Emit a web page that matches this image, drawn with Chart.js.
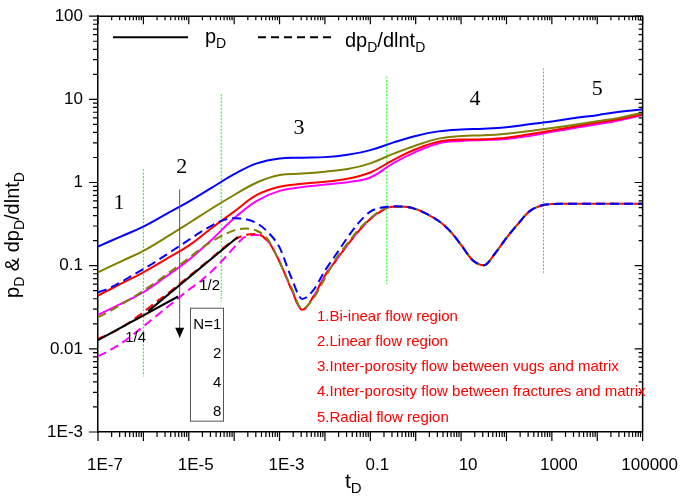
<!DOCTYPE html>
<html>
<head>
<meta charset="utf-8">
<script src="https://cdn.jsdelivr.net/npm/chart.js@4"></script>
<style>
  html, body { margin: 0; padding: 0; background: #fff; }
  #wrap { width: 685px; height: 500px; }
</style>
</head>
<body>
<div id="wrap"><canvas id="grafico"></canvas></div>
<script>
// tempo adimensional (meia década) para as curvas de pressão
const tPres = [1e-7, 3.16e-7, 1e-6, 3.16e-6, 1e-5, 3.16e-5, 1e-4, 3.16e-4, 1e-3, 3.16e-3, 0.01, 0.0316,
  0.1, 0.316, 1, 3.16, 10, 31.6, 100, 316, 1000, 3160, 1e4, 3.16e4, 1e5];

// pD para N = 1, 2, 4, 8
const pBlue = [0.170, 0.224, 0.295, 0.417, 0.589, 0.861, 1.26, 1.70, 1.95, 1.99, 2.02, 2.16, 2.45,
  3.02, 3.63, 4.12, 4.35, 4.44, 4.62, 5.01, 5.43, 5.96, 6.46, 7.08, 7.59];
const pOlive = [0.0832, 0.112, 0.151, 0.219, 0.324, 0.484, 0.708, 1.00, 1.23, 1.28, 1.35, 1.45, 1.70,
  2.21, 2.79, 3.37, 3.63, 3.69, 3.86, 4.17, 4.52, 4.96, 5.46, 6.03, 6.92];
const pRed = [0.0437, 0.0603, 0.0832, 0.120, 0.174, 0.282, 0.447, 0.708, 0.891, 0.966, 1.02, 1.11, 1.32,
  1.86, 2.51, 3.09, 3.28, 3.31, 3.45, 3.80, 4.22, 4.73, 5.25, 5.82, 6.61];
const pMagenta = [0.0257, 0.0347, 0.0479, 0.0741, 0.117, 0.204, 0.372, 0.603, 0.794, 0.881, 0.944, 1.01, 1.15,
  1.70, 2.34, 2.95, 3.16, 3.24, 3.33, 3.63, 4.07, 4.52, 5.01, 5.62, 6.46];

// tempo (quarto de década) para as derivadas
const tDeriv = [1e-7, 1.78e-7, 3.16e-7, 5.62e-7, 1e-6, 1.78e-6, 3.16e-6, 5.62e-6,
  1e-5, 1.78e-5, 3.16e-5, 5.62e-5, 1e-4, 1.78e-4, 3.16e-4, 5.62e-4,
  1e-3, 1.78e-3, 3.16e-3, 5.62e-3, 0.01, 0.0178, 0.0316, 0.0562,
  0.1, 0.178, 0.316, 0.562, 1, 1.78, 3.16, 5.62,
  10, 17.8, 31.6, 56.2, 100, 178, 316, 562,
  1000, 1780, 3160, 5620, 1e4, 1.78e4, 3.16e4, 5.62e4, 1e5];

// dpD/dlntD para N = 1, 2, 4, 8
const dBlue = [0.0479, 0.0537, 0.0631, 0.0759, 0.0912, 0.110, 0.135, 0.166, 0.204, 0.251, 0.302, 0.351,
  0.372, 0.363, 0.324, 0.251, 0.166, 0.0741, 0.0398, 0.0513, 0.0871, 0.138, 0.219, 0.331, 0.447, 0.501,
  0.519, 0.513, 0.479, 0.417, 0.347, 0.263, 0.178, 0.117, 0.101, 0.141, 0.216, 0.316, 0.447, 0.525,
  0.550, 0.556, 0.556, 0.556, 0.556, 0.556, 0.556, 0.556, 0.556];
const dOlive = [0.0240, 0.0282, 0.0339, 0.0407, 0.0501, 0.0617, 0.0776, 0.0977, 0.123, 0.158, 0.195, 0.232,
  0.266, 0.279, 0.263, 0.204, 0.110, 0.0562, 0.0302, 0.0407, 0.0708, 0.123, 0.186, 0.275, 0.372, 0.468,
  0.513, 0.513, 0.479, 0.417, 0.347, 0.263, 0.178, 0.117, 0.101, 0.141, 0.216, 0.316, 0.447, 0.525,
  0.550, 0.556, 0.556, 0.556, 0.556, 0.556, 0.556, 0.556, 0.556];
const dRed = [0.0132, 0.0151, 0.0178, 0.0219, 0.0275, 0.0355, 0.0447, 0.0575, 0.0741, 0.0955, 0.123, 0.162,
  0.204, 0.234, 0.240, 0.195, 0.112, 0.0537, 0.0295, 0.0427, 0.0759, 0.117, 0.178, 0.263, 0.363, 0.457,
  0.513, 0.513, 0.479, 0.417, 0.347, 0.263, 0.178, 0.117, 0.101, 0.141, 0.216, 0.316, 0.447, 0.525,
  0.550, 0.556, 0.556, 0.556, 0.556, 0.556, 0.556, 0.556, 0.556];
const dMagenta = [0.00813, 0.00955, 0.0115, 0.0145, 0.0186, 0.0240, 0.0309, 0.0398, 0.0513, 0.0646, 0.0851, 0.117,
  0.166, 0.224, 0.234, 0.195, 0.112, 0.0537, 0.0295, 0.0427, 0.0759, 0.117, 0.178, 0.263, 0.363, 0.457,
  0.513, 0.513, 0.479, 0.417, 0.347, 0.263, 0.178, 0.117, 0.101, 0.141, 0.216, 0.316, 0.447, 0.525,
  0.550, 0.556, 0.556, 0.556, 0.556, 0.556, 0.556, 0.556, 0.556];

// retas de inclinação 1/4 e 1/2
const slope4T = [1e-7, 5.82e-6];
const slope4V = [0.0127, 0.0426];
const slope2T = [1.28e-6, 1.2e-4];
const slope2V = [0.0284, 0.221];

// limites dos regimes (linhas verdes)
const limT = [1e-6, 5.19e-5, 0.231, 655];
const limTop = [1.45, 11.6, 18.8, 23.7];
const limBottom = [0.00465, 0.0371, 0.06, 0.079];

// seta de N crescente
const setaT = [6.3e-6, 6.3e-6];
const setaV = [0.832, 0.0136];

const xTickValues = [1e-7, 1e-6, 1e-5, 1e-4, 1e-3, 0.01, 0.1, 1, 10, 100, 1000, 1e4, 1e5];
const xTickLabels = ["1E-7", "", "1E-5", "", "1E-3", "", "0.1", "", "10", "", "1000", "", "100000"];
const yTickValues = [1e-3, 0.01, 0.1, 1, 10, 100];
const yTickLabels = ["1E-3", "0.01", "0.1", "1", "10", "100"];

const nomesN = ["N=1", "2", "4", "8"];
const regioes = ["1.Bi-inear flow region", "2.Linear flow region",
  "3.Inter-porosity flow between vugs and matrix",
  "4.Inter-porosity flow between fractures and matrix", "5.Radial flow region"];

const FONTE = '"Liberation Sans", Arial, sans-serif';
const SERIF = '"Liberation Serif", "Times New Roman", serif';

const pts = (t, v) => t.map((tv, i) => ({ x: tv, y: v[i] }));

const curva = (t, v, cor, tracejado, largura, suave) => ({
  data: pts(t, v),
  borderColor: cor,
  borderWidth: largura || 2,
  borderDash: tracejado ? [9, 5] : [],
  pointRadius: 0,
  fill: false,
  cubicInterpolationMode: suave ? "default" : "monotone",
  tension: suave ? 0.4 : 0,
});

const datasets = [
  curva(slope4T, slope4V, "#000000", false, 2),
  curva(slope2T, slope2V, "#000000", false, 2),
  curva(setaT, setaV, "#555555", false, 1),
  curva(tDeriv, dBlue, "#0000ff", true),
  curva(tDeriv, dOlive, "#808000", true),
  curva(tDeriv, dRed, "#ff0000", true),
  curva(tDeriv, dMagenta, "#ff00ff", true),
  curva(tPres, pBlue, "#0000ff", false, 2, true),
  curva(tPres, pOlive, "#808000", false, 2, true),
  curva(tPres, pRed, "#ff0000", false, 2, true),
  curva(tPres, pMagenta, "#ff00ff", false, 2, true),
];
limT.forEach((t, i) => {
  const d = curva([t, t], [limTop[i], limBottom[i]], "#00ff00", false, 1);
  d.borderDash = [2, 1.5];
  datasets.push(d);
});

// texto com subscritos: partes [texto, ehSub]
const textoSub = (ctx, partes, x, y, tam, tamSub, desce, medir) => {
  let cx = x;
  partes.forEach(([txt, sub]) => {
    ctx.font = (sub ? tamSub : tam) + "px " + FONTE;
    if (!medir) ctx.fillText(txt, cx, sub ? y + desce : y);
    cx += ctx.measureText(txt).width;
  });
  return cx - x;
};

const decor = {
  id: "decor",
  afterDraw(chart) {
    const { ctx, chartArea: a, scales: { x, y } } = chart;
    ctx.save();
    ctx.strokeStyle = "#000";
    ctx.lineWidth = 1.5;
    ctx.beginPath();
    ctx.moveTo(a.left, a.top);
    ctx.lineTo(a.right, a.top);
    ctx.lineTo(a.right, a.bottom);
    ctx.stroke();

    // marcas dos eixos
    ctx.lineWidth = 1.2;
    ctx.beginPath();
    for (let k = -7; k <= 5; k++) {
      for (let m = 1; m <= 9; m++) {
        const v = m * Math.pow(10, k);
        if (v > 1e5 * 1.0001) break;
        const px = x.getPixelForValue(v);
        const out = m === 1 ? 9 : 5;
        const inn = m === 1 ? 8 : 4;
        ctx.moveTo(px, a.bottom); ctx.lineTo(px, a.bottom + out);
        ctx.moveTo(px, a.top); ctx.lineTo(px, a.top + inn);
      }
    }
    for (let k = -3; k <= 2; k++) {
      for (let m = 1; m <= 9; m++) {
        const v = m * Math.pow(10, k);
        if (v > 100 * 1.0001) break;
        const py = y.getPixelForValue(v);
        const out = m === 1 ? 9 : 5;
        const inn = m === 1 ? 8 : 4;
        ctx.moveTo(a.left - out, py); ctx.lineTo(a.left, py);
        ctx.moveTo(a.right - inn, py); ctx.lineTo(a.right, py);
      }
    }
    ctx.stroke();

    // ponta da seta
    const seta = chart.getDatasetMeta(2).data[1];
    ctx.fillStyle = "#000";
    ctx.beginPath();
    ctx.moveTo(seta.x, seta.y);
    ctx.lineTo(seta.x - 4.5, seta.y - 10);
    ctx.lineTo(seta.x + 4.5, seta.y - 10);
    ctx.closePath();
    ctx.fill();

    // legenda
    ctx.lineWidth = 2;
    ctx.beginPath();
    ctx.moveTo(a.left + 15, a.top + 21);
    ctx.lineTo(a.left + 90, a.top + 21);
    ctx.stroke();
    ctx.setLineDash([8, 5]);
    ctx.beginPath();
    ctx.moveTo(a.left + 160, a.top + 21);
    ctx.lineTo(a.left + 236, a.top + 21);
    ctx.stroke();
    ctx.setLineDash([]);
    ctx.textAlign = "left";
    ctx.textBaseline = "alphabetic";
    textoSub(ctx, [["p", false], ["D", true]], a.left + 107, a.top + 27, 20, 14, 5);
    textoSub(ctx, [["dp", false], ["D", true], ["/dlnt", false], ["D", true]], a.left + 247, a.top + 31, 20, 14, 5);

    // títulos dos eixos
    textoSub(ctx, [["t", false], ["D", true]], 345, 488, 21, 15, 5);
    const tituloY = [["p", false], ["D", true], [" & dp", false], ["D", true], ["/dlnt", false], ["D", true]];
    const w = textoSub(ctx, tituloY, 0, 0, 20, 14, 5, true);
    ctx.save();
    ctx.translate(19, 235);
    ctx.rotate(-Math.PI / 2);
    textoSub(ctx, tituloY, -w / 2, 0, 20, 14, 5);
    ctx.restore();

    // números dos regimes
    const marcas = [["1", 2.92e-7, 0.567], ["2", 7.0e-6, 1.52], ["3", 2.69e-3, 4.44], ["4", 20.2, 10.1], ["5", 1.0e4, 13.3]];
    ctx.font = "22px " + SERIF;
    ctx.textAlign = "center";
    ctx.textBaseline = "middle";
    marcas.forEach(([txt, t, v]) => ctx.fillText(txt, x.getPixelForValue(t), y.getPixelForValue(v)));

    ctx.font = "15px " + FONTE;
    ctx.fillText("1/4", x.getPixelForValue(6.73e-7), y.getPixelForValue(0.01355));
    ctx.fillText("1/2", x.getPixelForValue(2.88e-5), y.getPixelForValue(0.0573));

    // caixa N
    const bx0 = x.getPixelForValue(1.09e-5), bx1 = x.getPixelForValue(5.82e-5);
    const by0 = y.getPixelForValue(0.0308), by1 = y.getPixelForValue(1.35e-3);
    ctx.strokeStyle = "#555";
    ctx.lineWidth = 1;
    ctx.strokeRect(bx0, by0, bx1 - bx0, by1 - by0);
    ctx.textAlign = "right";
    const linhasN = [0.0195, 0.00881, 0.00394, 0.00175];
    nomesN.forEach((txt, i) => ctx.fillText(txt, x.getPixelForValue(5.19e-5), y.getPixelForValue(linhasN[i])));

    // descrição dos regimes
    ctx.fillStyle = "#ff0000";
    ctx.textAlign = "left";
    regioes.forEach((txt, i) => ctx.fillText(txt, a.left + 219, a.top + 300.5 + 25.2 * i));
    ctx.restore();
  },
};

new Chart(document.getElementById("grafico"), {
  type: "line",
  data: { datasets: datasets },
  options: {
    responsive: true,
    maintainAspectRatio: false,
    animation: false,
    layout: { padding: { top: 12, right: 39, left: 0, bottom: 0 } },
    plugins: { legend: { display: false }, tooltip: { enabled: false } },
    scales: {
      x: {
        type: "logarithmic",
        min: 1e-7,
        max: 1e5,
        grid: { display: false, drawTicks: true, tickLength: 9 },
        border: { display: true, color: "#000", width: 1.5 },
        afterBuildTicks: (s) => { s.ticks = xTickValues.map((v) => ({ value: v })); },
        afterFit: (s) => { s.height = 68; },
        ticks: {
          autoSkip: false,
          maxRotation: 0,
          padding: 14,
          labelOffset: 7,
          color: "#000",
          font: { family: FONTE, size: 17 },
          callback: (v, i) => xTickLabels[i],
        },
      },
      y: {
        type: "logarithmic",
        min: 1e-3,
        max: 100,
        grid: { display: false, drawTicks: true, tickLength: 9 },
        border: { display: true, color: "#000", width: 1.5 },
        afterBuildTicks: (s) => { s.ticks = yTickValues.map((v) => ({ value: v })); },
        afterFit: (s) => { s.width = 98; },
        ticks: {
          autoSkip: false,
          padding: 6,
          color: "#000",
          font: { family: FONTE, size: 17 },
          callback: (v, i) => yTickLabels[i],
        },
      },
    },
  },
  plugins: [decor],
});
</script>
</body>
</html>
